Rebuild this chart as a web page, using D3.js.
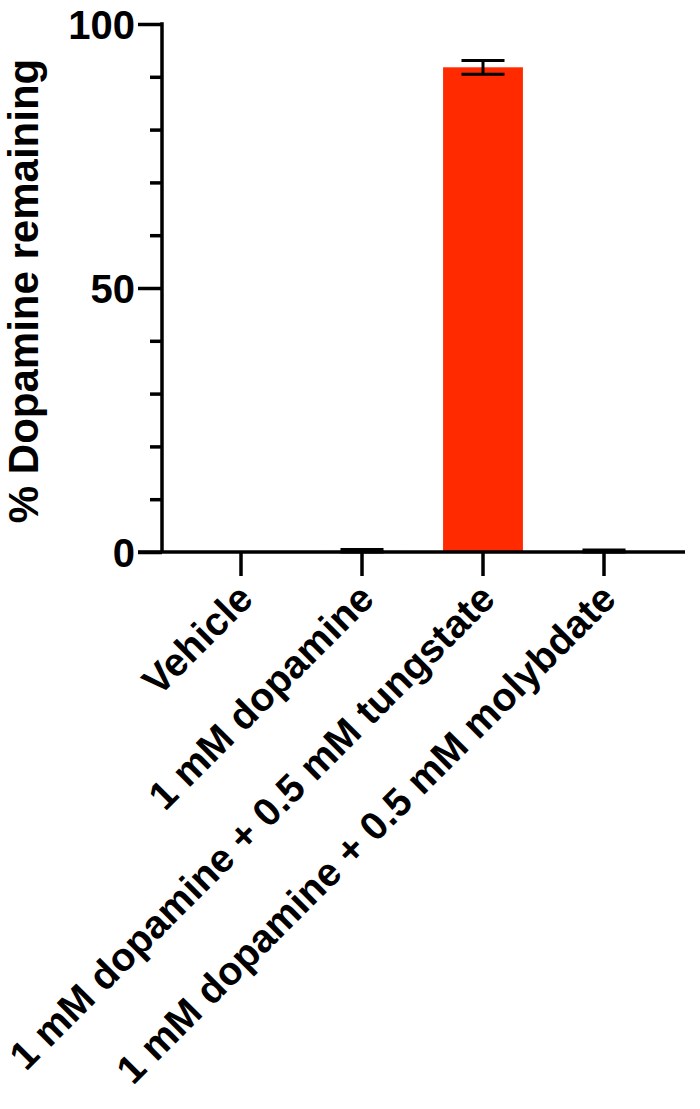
<!DOCTYPE html>
<html>
<head>
<meta charset="utf-8">
<script src="https://cdn.jsdelivr.net/npm/d3@7"></script>
<style>
  html, body { margin: 0; padding: 0; background: #fff; }
  svg { display: block; }
  text { font-family: "Liberation Sans", Arial, sans-serif; font-weight: bold; fill: #000; }
</style>
</head>
<body>
<svg id="chart" width="700" height="1109"></svg>
<script>
// ---- data ----
const categories = [
  "Vehicle",
  "1 mM dopamine",
  "1 mM dopamine + 0.5 mM tungstate",
  "1 mM dopamine + 0.5 mM molybdate"
];
const means = [0, 0.2, 91.8, 0.15];
const sds = [0, 0.25, 1.3, 0.25];
const majorTicks = [0, 50, 100];
const minorTicks = [10, 20, 30, 40, 60, 70, 80, 90];
const yTitle = "% Dopamine remaining";

// ---- layout ----
const svg = d3.select("#chart");
const axisX = 162, plotTop = 24, plotBase = 552, plotRight = 685;
const sw = 3.5;

const y = d3.scaleLinear().domain([0, 100]).range([plotBase, plotTop]);
const x = d3.scaleBand().domain(categories).range([180.5, 664.5]).padding(0);
const barW = x.bandwidth() * 0.66;
const capW = 43;
const cx = d => x(d) + x.bandwidth() / 2;
const barColor = "#ff2a00";

// bars
svg.append("g").selectAll("rect").data(categories).join("rect")
  .attr("x", d => cx(d) - barW / 2)
  .attr("width", barW)
  .attr("y", (d, i) => y(means[i]))
  .attr("height", (d, i) => y(0) - y(means[i]))
  .attr("fill", barColor);

// error bars
const eb = svg.append("g").attr("stroke", "#000").attr("stroke-width", 3);
categories.forEach((c, i) => {
  if (sds[i] <= 0) return;
  const hi = y(means[i] + sds[i]), lo = y(Math.max(0, means[i] - sds[i]));
  eb.append("line").attr("x1", cx(c)).attr("x2", cx(c)).attr("y1", hi).attr("y2", lo);
  eb.append("line").attr("x1", cx(c) - capW / 2).attr("x2", cx(c) + capW / 2).attr("y1", hi).attr("y2", hi);
  eb.append("line").attr("x1", cx(c) - capW / 2).attr("x2", cx(c) + capW / 2).attr("y1", lo).attr("y2", lo);
});

// y axis (major)
const yAxis = d3.axisLeft(y).tickValues(majorTicks).tickSize(24).tickPadding(3).tickFormat(d3.format("d"));
const gy = svg.append("g").attr("transform", `translate(${axisX},0)`).call(yAxis);
gy.select(".domain").remove();
gy.selectAll(".tick line").attr("stroke", "#000").attr("stroke-width", sw);
gy.selectAll(".tick text").style("font-size", "40px").attr("dy", "0.36em");
gy.append("line").attr("x1", 0).attr("x2", 0).attr("y1", y(100) - sw / 2).attr("y2", y(0))
  .attr("stroke", "#000").attr("stroke-width", sw);

// minor ticks
const yMinor = d3.axisLeft(y).tickValues(minorTicks).tickSize(12).tickFormat("");
const gym = svg.append("g").attr("transform", `translate(${axisX},0)`).call(yMinor);
gym.select(".domain").remove();
gym.selectAll(".tick line").attr("stroke", "#000").attr("stroke-width", sw);

// x axis
const xAxis = d3.axisBottom(x).tickSize(24).tickPadding(0).tickFormat("");
const gx = svg.append("g").attr("transform", `translate(0,${plotBase})`).call(xAxis);
gx.select(".domain").remove();
gx.selectAll(".tick line").attr("stroke", "#000").attr("stroke-width", sw);
gx.append("line").attr("x1", axisX - 24).attr("x2", plotRight).attr("y1", 0).attr("y2", 0)
  .attr("stroke", "#000").attr("stroke-width", sw);

// x labels rotated
svg.append("g").selectAll("text").data(categories).join("text")
  .attr("transform", d => `translate(${cx(d) + 14},${plotBase + 49}) rotate(-45)`)
  .attr("text-anchor", "end")
  .style("font-size", "39.5px")
  .text(d => d);

// y title
svg.append("text")
  .attr("transform", `translate(38,${(57 + 525) / 2}) rotate(-90)`)
  .attr("text-anchor", "middle")
  .style("font-size", "42px")
  .text(yTitle);
</script>
</body>
</html>
